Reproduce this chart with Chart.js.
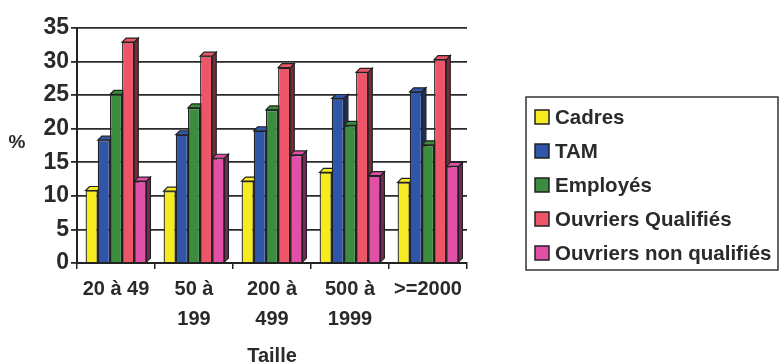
<!DOCTYPE html>
<html>
<head>
<meta charset="utf-8">
<script src="https://cdn.jsdelivr.net/npm/chart.js@4"></script>
<style>
  html, body { margin: 0; padding: 0; background: #fff; }
  #wrap { width: 781px; height: 364px; }
</style>
</head>
<body>
<div id="wrap"><canvas id="chart" width="781" height="364"></canvas></div>
<script>
// --- DONNEES ---
const categories = ["20 à 49", ["50 à", "199"], ["200 à", "499"], ["500 à", "1999"], ">=2000"];
const seriesNames = ["Cadres", "TAM", "Employés", "Ouvriers Qualifiés", "Ouvriers non qualifiés"];
const cadres = [10.8, 10.7, 12.2, 13.5, 12.0];
const tam = [18.3, 19.1, 19.7, 24.5, 25.5];
const employes = [25.1, 23.1, 22.8, 20.5, 17.6];
const ouvQualifies = [32.9, 30.8, 29.1, 28.4, 30.3];
const ouvNonQualifies = [12.2, 15.6, 16.1, 13.0, 14.4];
const yTicks = [0, 5, 10, 15, 20, 25, 30, 35];

const colors = ["#f6eb1f", "#2f56a8", "#3b8c3e", "#ee5568", "#e24fa6"];
const sideColors = ["#8a7a20", "#1c2f5e", "#1f4a22", "#7a2a38", "#742a5c"];
const FONT = "'Liberation Sans', Arial, sans-serif";
const TEXT = "#2a2a2a";
const DEPTH = 4;

// --- FACES 3D (cote + dessus) ---
const depthPlugin = {
  id: "depth",
  beforeDatasetsDraw(chart) {
    const ctx = chart.ctx;
    ctx.save();
    ctx.strokeStyle = "#222";
    ctx.lineWidth = 1.2;
    chart.data.datasets.forEach((ds, i) => {
      chart.getDatasetMeta(i).data.forEach((bar) => {
        const l = bar.x - bar.width / 2, r = bar.x + bar.width / 2;
        const t = bar.y, b = bar.base;
        // cote
        ctx.beginPath();
        ctx.moveTo(r, t);
        ctx.lineTo(r + DEPTH, t - DEPTH);
        ctx.lineTo(r + DEPTH, b - DEPTH);
        ctx.lineTo(r, b);
        ctx.closePath();
        ctx.fillStyle = sideColors[i];
        ctx.fill();
        ctx.stroke();
        // dessus
        ctx.beginPath();
        ctx.moveTo(l, t);
        ctx.lineTo(l + DEPTH, t - DEPTH);
        ctx.lineTo(r + DEPTH, t - DEPTH);
        ctx.lineTo(r, t);
        ctx.closePath();
        ctx.fillStyle = colors[i];
        ctx.fill();
        ctx.stroke();
      });
    });
    ctx.restore();
  },
};

// --- LEGENDE + TITRE Y ---
const extrasPlugin = {
  id: "extras",
  afterDraw(chart) {
    const ctx = chart.ctx;
    ctx.save();
    // "%"
    ctx.fillStyle = TEXT;
    ctx.font = "bold 19px " + FONT;
    ctx.textAlign = "center";
    ctx.textBaseline = "middle";
    ctx.fillText("%", 17, 143);

    // cadre legende
    const lx = 526, ly = 97, lw = 252, lh = 173;
    ctx.strokeStyle = "#333";
    ctx.lineWidth = 1.5;
    ctx.strokeRect(lx, ly, lw, lh);
    ctx.font = "bold 20.5px " + FONT;
    ctx.textAlign = "left";
    chart.data.datasets.forEach((ds, i) => {
      const cy = 117 + i * 34;
      ctx.fillStyle = ds.backgroundColor;
      ctx.fillRect(535, cy - 7, 14, 14);
      ctx.strokeStyle = "#222";
      ctx.lineWidth = 1.5;
      ctx.strokeRect(535, cy - 7, 14, 14);
      ctx.fillStyle = TEXT;
      ctx.fillText(ds.label, 555, cy + 1);
    });
    ctx.restore();
  },
};

const seriesData = [cadres, tam, employes, ouvQualifies, ouvNonQualifies];

new Chart(document.getElementById("chart"), {
  type: "bar",
  data: {
    labels: categories,
    datasets: seriesNames.map((name, i) => ({
      label: name,
      data: seriesData[i],
      backgroundColor: colors[i],
      borderColor: "#222",
      borderWidth: 1.3,
      barPercentage: 1,
      categoryPercentage: 0.78,
    })),
  },
  options: {
    responsive: false,
    animation: false,
    layout: { padding: { left: 0, right: 314, top: 28, bottom: 0 } },
    plugins: {
      legend: { display: false },
      tooltip: { enabled: false },
    },
    scales: {
      x: {
        grid: { display: true, drawOnChartArea: false, offset: true, color: "#222", lineWidth: 1.5, tickLength: 6 },
        border: { color: "#222", width: 2 },
        ticks: {
          color: TEXT,
          font: { family: FONT, size: 20, weight: "bold", lineHeight: 1.5 },
          padding: 5,
          maxRotation: 0,
          autoSkip: false,
        },
        title: {
          display: true,
          text: "Taille",
          color: TEXT,
          font: { family: FONT, size: 20, weight: "bold", lineHeight: 1 },
          padding: { top: 0, bottom: -2 },
        },
        afterFit: (s) => { s.height = 101; },
      },
      y: {
        min: 0,
        max: 35,
        afterBuildTicks: (s) => { s.ticks = yTicks.map((v) => ({ value: v })); },
        grid: { color: "#2a2a2a", lineWidth: 1.8, tickLength: 6, drawTicks: true },
        border: { color: "#222", width: 2 },
        ticks: {
          color: TEXT,
          font: { family: FONT, size: 23, weight: "bold" },
          padding: 2,
        },
        afterFit: (s) => { s.width = 77; },
      },
    },
  },
  plugins: [depthPlugin, extrasPlugin],
});
</script>
</body>
</html>
